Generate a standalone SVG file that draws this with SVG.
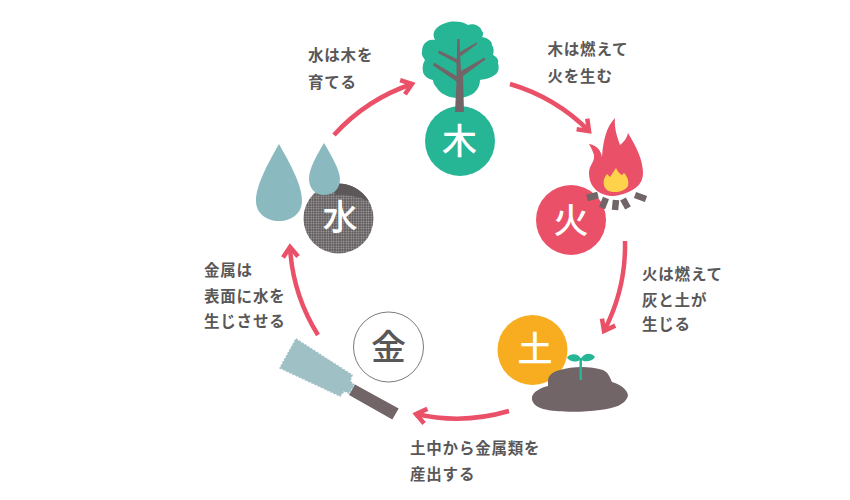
<svg xmlns="http://www.w3.org/2000/svg" width="850" height="500" viewBox="0 0 850 500">
<style>
.lb{font-family:"Noto Sans CJK JP","Noto Sans",sans-serif;font-size:15.5px;font-weight:700;fill:#595757;letter-spacing:.8px}
.el{font-family:"Noto Sans CJK JP","Noto Sans",sans-serif;font-size:35px;font-weight:500;text-anchor:middle;fill:#fff}
.ar{fill:none;stroke:#EA5068;stroke-width:4.5}
</style>
<defs>
<pattern id="dots" width="2.5" height="2.5" patternUnits="userSpaceOnUse"><rect width="2.500" height="2.500" fill="#5c5758"/><circle cx="1.250" cy="1.250" r=".8" fill="#b5b1b1"/></pattern>
<marker id="ah" markerUnits="userSpaceOnUse" markerWidth="20" markerHeight="20" refX="13" refY="10" orient="auto"><path d="M3 2.500 L13 10 L3 17.500" fill="none" stroke="#EA5068" stroke-width="4.5"/></marker>
</defs>
<rect width="850" height="500" fill="#fff"/>
<g id="connectors">
<path class="ar" marker-end="url(#ah)" d="M334 135 A185 185 0 0 1 412 84"/>
<path class="ar" marker-end="url(#ah)" d="M510 84 A185 185 0 0 1 589 131"/>
<path class="ar" marker-end="url(#ah)" d="M625 241 A185 185 0 0 1 604 331"/>
<path class="ar" marker-end="url(#ah)" d="M509 411 A185 185 0 0 1 416 414"/>
<path class="ar" marker-end="url(#ah)" d="M318 335 A185 185 0 0 1 290 247"/>
</g>
<g id="node-wood">
<path fill="#26B595" d="M450 21.700 C457 21 464 22 468 25 C473 23 480 25 482 31 C484 33 483 35 482 37 C488 38 492 41 492 45 C494 48 494 52 493 55 C497 57 499 60 498 63 C499 67 499 70 497 73 C492 78 486 79 480 80 C480 85 478 89 475 92 C472 95 468 96 465 97 C460 99 455 98 450 97 C444 95 439 92 437 88 C435 86 433 83 433 80 C428 79 424 76 423 72 C422 67 423 63 425 60 C423 57 421 54 422 52 C422 48 423 45 425 43 C428 40 431 39 435 40 C433 36 433 33 435 30 C439 25 444 23 450 21.700Z"/>
<circle cx="460" cy="141" r="35" fill="#26B595"/>
<path fill="#726567" d="M457.200 39 L459.600 39 L460 52 L476.500 42.500 L477.200 44 L460.200 56.500 L461 71 L484.500 57.500 L485.500 59.500 L463 76 L464 112 L455 112 L456.500 81.500 L433 65.500 L434 62.500 L456.500 76 L456.500 63 L438 53 L439 50.500 L456.800 59Z"/>
<text class="el" x="459.500" y="154">木</text>
</g>
<g id="node-fire">
<circle cx="571" cy="220" r="35" fill="#EA5068"/>
<path fill="#EA5068" d="M615 118 C614 128 617 136 620 145 C624 142 627 138 628 133 C636 146 643 160 643 173 C643 186 632 193 614 196 C600 196 589 188 589 173 C589 165 595 162 594 155 C593 151 591 148 589 144 C596 145 601 150 602 157 C603 142 606 127 615 118Z"/>
<path fill="#FFD24C" d="M616 168 C618 172 620 174 622 175 L624 173 C628 177 629 182 628 186 C625 192 612 194 607 190 C602 186 603 178 607 174 L610 177 C612 174 614 171 616 168Z"/>
<g stroke="#726567" stroke-width="6.500" fill="none">
<path d="M587 198 L598 195"/><path d="M602 208 L606 198"/><path d="M615 210 L616 200"/><path d="M628 208 L623 199"/><path d="M646 199 L635 195"/>
</g>
<text class="el" x="571" y="232.500">火</text>
</g>
<g id="node-earth">
<circle cx="532.500" cy="350" r="35" fill="#F7AD1F"/>
<path fill="#726567" d="M548 380 C549 375 552 372 560 370 C573 366 590 366 603 370 C609 373 610 378 612 382 C620 384 628 390 628 396 C625 405 615 408 600 410 C580 413 555 412 543 409 C536 407 531 402 532 397 C533 392 540 388 548 386Z"/>
<path fill="none" stroke="#26B595" stroke-width="2.500" d="M580.700 380 L580.700 358"/>
<path fill="#26B595" d="M567 357.500 C571 352.500 578 353.500 581 358.500 C584 353 591 352 595 357 C592 362 584 362.500 581 359.500 C577 362.500 570 362.500 567 357.500Z"/>
<text class="el" x="535" y="361.500">土</text>
</g>
<g id="node-metal">
<circle cx="388.500" cy="347" r="35" fill="#fff" stroke="#595757" stroke-width=".8"/>
<path fill="#9FC0C5" stroke="#9FC0C5" stroke-width="1.500" stroke-dasharray="2 1.500" d="M296 339 L352 375 L350 381 L354 385 L349 393 L344 391 L340 396 L280 368Z"/>
<path fill="#726567" d="M355 384.500 L398.700 408.500 L392.300 419.500 L349 395Z"/>
<text class="el" x="388.500" y="359.500" style="fill:#595757">金</text>
</g>
<g id="node-water">
<circle cx="338.500" cy="218.500" r="35" fill="url(#dots)"/>
<path fill="#5c5758" d="M335 183.700 A35 35 0 0 1 369 201.500 C358 196 345 194 335 195Z"/>
<path fill="#8ABABF" d="M279 144 C289 162 302 184 302 201 C302 213 292 221 279 221 C266 221 256 213 256 201 C256 184 270 160 279 144Z"/>
<path fill="#8ABABF" d="M324 143 C331 155 340 170 340 179 C340 190 332 195 324 195 C315 195 309 188 309 179 C309 168 317 155 324 143Z"/>
<text class="el" x="340" y="230">水</text>
</g>
<g id="labels">
<text class="lb" x="308" y="60.500">水は木を</text><text class="lb" x="308" y="87.500">育てる</text>
<text class="lb" x="547.500" y="54.500">木は燃えて</text><text class="lb" x="547.500" y="81.500">火を生む</text>
<text class="lb" x="642" y="279.500">火は燃えて</text><text class="lb" x="642" y="305.500">灰と土が</text><text class="lb" x="642" y="329.500">生じる</text>
<text class="lb" x="204" y="275.500">金属は</text><text class="lb" x="204" y="301.500">表面に水を</text><text class="lb" x="204" y="326.500">生じさせる</text>
<text class="lb" x="410" y="453.500">土中から金属類を</text><text class="lb" x="410" y="479.500">産出する</text>
</g>
</svg>
